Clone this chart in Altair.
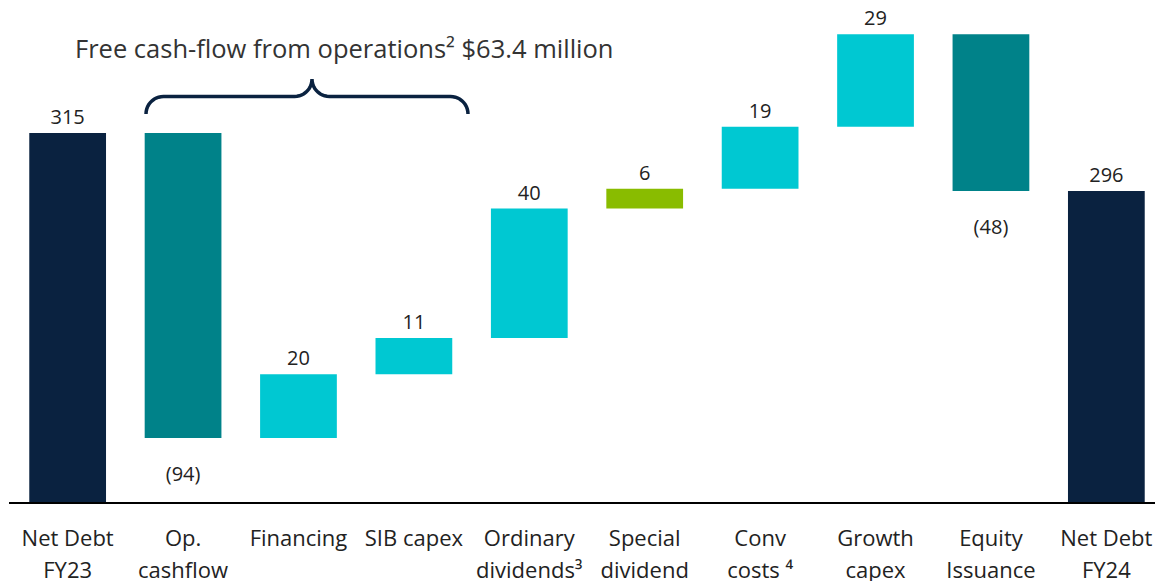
import altair as alt
import pandas as pd
import numpy as np

# ---- data ----
categories = ["Net Debt|FY23", "Op.|cashflow", "Financing", "SIB capex",
              "Ordinary|dividends³", "Special|dividend", "Conv|costs ⁴",
              "Growth|capex", "Equity|Issuance", "Net Debt|FY24"]
values = [314.0, -94.0, 19.7, 11.1, 39.9, 6.1, 19.1, 28.5, -48.3, 296.1]
kinds = ["total", "neg", "pos", "pos", "pos", "special", "pos", "pos", "neg", "total"]
value_labels = ["315", "(94)", "20", "11", "40", "6", "19", "29", "(48)", "296"]
title_text = "Free cash-flow from operations² $63.4 million"
base_value = 200

kind_domain = ["total", "neg", "pos", "special"]
kind_colors = ["#0A2240", "#008289", "#00C8D2", "#89BC00"]

FONT = "Open Sans"
TXT = "#222222"
W, H = 1136, 495

rows = []
running = 0.0
for c, v, k, lab in zip(categories, values, kinds, value_labels):
    if k == "total":
        start, end = base_value, v
        running = v
    else:
        start, end = running, running + v
        running = running + v
    rows.append(dict(cat=c, start=start, end=end, kind=k, label=lab,
                     top=max(start, end), bottom=min(start, end)))
df = pd.DataFrame(rows)

# brace decoration (pixel path inside the plot area)
def arc(cx, cy, r, a0, a1, n=12):
    t = np.radians(np.linspace(a0, a1, n))
    return list(zip(cx + r * np.cos(t), cy + r * np.sin(t)))

r = 17.5
pts = (arc(144.5, 106, r, 180, 270) + arc(275.5, 71, r, 90, 0)
       + arc(310.5, 71, r, 180, 90) + arc(431.5, 106, r, 270, 360))
brace = pd.DataFrame({"bx": [p[0] for p in pts], "by": [p[1] for p in pts],
                      "o": list(range(len(pts)))})

xenc = alt.X("cat:N", sort=categories,
             scale=alt.Scale(type="band", paddingInner=0.335, paddingOuter=0.089),
             axis=alt.Axis(title=None, labelAngle=0, ticks=False, tickSize=0, domain=False,
                           labelExpr="split(datum.label, '|')",
                           labelFont=FONT, labelFontSize=22, labelColor=TXT,
                           labelPadding=25, labelLineHeight=32, labelOverlap=False,
                           labelLimit=0))
yscale = alt.Scale(domain=[base_value, 352.5], nice=False, zero=False)

basec = alt.Chart(df)
bars = basec.mark_bar().encode(
    x=xenc,
    y=alt.Y("start:Q", scale=yscale, axis=None),
    y2="end:Q",
    color=alt.Color("kind:N", scale=alt.Scale(domain=kind_domain, range=kind_colors), legend=None),
)
pos_text = basec.transform_filter("datum.kind != 'neg'").mark_text(
    font=FONT, fontSize=20, color=TXT, baseline="alphabetic", dy=-9
).encode(x=xenc, y=alt.Y("top:Q", scale=yscale, axis=None), text="label:N")
neg_text = basec.transform_filter("datum.kind == 'neg'").mark_text(
    font=FONT, fontSize=20, color=TXT, baseline="alphabetic", dy=43
).encode(x=xenc, y=alt.Y("bottom:Q", scale=yscale, axis=None), text="label:N")
title = alt.Chart(pd.DataFrame({"t": [title_text]})).mark_text(
    font=FONT, fontSize=25.5, color="#333333", align="left", baseline="alphabetic"
).encode(x=alt.value(56), y=alt.value(50), text="t:N")
baseline_rule = alt.Chart(pd.DataFrame({"t": [0]})).mark_rule(color="#000000", strokeWidth=2).encode(
    x=alt.value(-10), x2=alt.value(W), y=alt.value(H)
)

main = alt.layer(bars, pos_text, neg_text, title, baseline_rule)

brace_line = alt.Chart(brace).mark_line(color="#0A2240", strokeWidth=3.5, strokeCap="butt").encode(
    x=alt.X("bx:Q", scale=None, axis=None),
    y=alt.Y("by:Q", scale=None, axis=None),
    order="o:Q",
)

chart = alt.layer(main, brace_line).resolve_scale(x="independent", y="independent").properties(
    width=W, height=H,
    padding={"left": 11, "top": 0, "right": 0, "bottom": 80},
    autosize=alt.AutoSizeParams(type="none"),
).configure_view(stroke=None)

chart.save("out.html", embed_options={"renderer": "svg", "actions": False})
